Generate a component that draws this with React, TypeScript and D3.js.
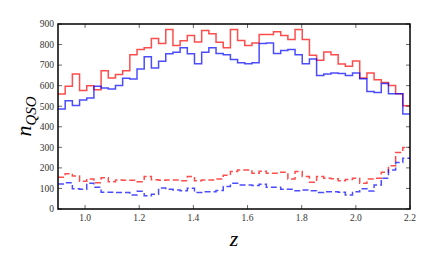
import React from 'react';
import * as d3 from 'd3';

// histogram range and bin count
const zMin = 0.9;
const zMax = 2.2;
const nBins = 49;

// counts per bin
const redSolid = [559, 597, 657, 576, 600, 580, 673, 637, 654, 673, 751, 776, 784, 829, 805, 873, 795, 818, 844, 813, 868, 852, 811, 784,
  873, 820, 795, 808, 849, 849, 862, 844, 824, 873, 824, 748, 724, 764, 751, 706, 694, 720, 637, 662, 629, 616, 601, 561, 502];
const blueSolid = [486, 527, 504, 530, 540, 597, 589, 584, 601, 636, 633, 681, 741, 686, 719, 755, 763, 785, 755, 707, 763, 785, 756, 751,
  727, 711, 707, 711, 805, 808, 756, 771, 776, 751, 707, 730, 649, 657, 662, 659, 649, 662, 634, 572, 567, 610, 561, 561, 462];
const redDashed = [155, 172, 160, 135, 146, 128, 152, 133, 141, 140, 140, 133, 158, 142, 140, 141, 141, 138, 158, 138, 141, 141, 146, 164,
  182, 190, 190, 174, 184, 174, 174, 179, 146, 182, 158, 130, 158, 150, 147, 137, 144, 150, 125, 146, 150, 179, 210, 275, 299];
const blueDashed = [122, 128, 98, 96, 125, 106, 82, 82, 80, 80, 68, 86, 65, 72, 102, 96, 93, 89, 101, 80, 84, 84, 90, 109,
  125, 117, 117, 114, 120, 106, 106, 96, 96, 89, 93, 89, 80, 84, 84, 81, 68, 84, 98, 87, 117, 150, 190, 226, 247];

const xTicks = [1.0, 1.2, 1.4, 1.6, 1.8, 2.0, 2.2];
const yTicks = [0, 100, 200, 300, 400, 500, 600, 700, 800, 900];

const margin = { top: 16, right: 18, bottom: 45, left: 50 };
const W = 436 - 8;
const H = 262 - 8;
const innerW = 410 - 8 - margin.left;
const innerH = 209 - 8 - margin.top;

const App = () => {
  const x = d3.scaleLinear().domain([zMin, zMax]).range([0, innerW]);
  const y = d3.scaleLinear().domain([0, 900]).range([innerH, 0]);
  const binW = (zMax - zMin) / nBins;

  // step path through the bin edges
  const stepPath = (vals: number[]) => {
    const pts: [number, number][] = vals.map((v, i) => [zMin + i * binW, v]);
    pts.push([zMax, vals[vals.length - 1]]);
    return d3.line<[number, number]>()
      .x(d => x(d[0]))
      .y(d => y(d[1]))
      .curve(d3.curveStepAfter)(pts) ?? '';
  };

  const series = [
    { vals: redSolid, color: '#ff0000', dash: undefined },
    { vals: blueSolid, color: '#0000ff', dash: undefined },
    { vals: redDashed, color: '#ff0000', dash: '6,3' },
    { vals: blueDashed, color: '#0000ff', dash: '6,3' },
  ];

  const font = 'Liberation Serif, DejaVu Serif, serif';

  return (
    <svg width={W} height={H} style={{ display: 'block' }}>
      <g transform={`translate(${margin.left},${margin.top})`}>
        <defs>
          <clipPath id="plot">
            <rect x={0} y={0} width={innerW} height={innerH} />
          </clipPath>
        </defs>
        <g clipPath="url(#plot)">
          {series.map((s, i) => (
            <path key={i} d={stepPath(s.vals)} fill="none" stroke={s.color}
              strokeOpacity={0.7} strokeWidth={1.5} strokeDasharray={s.dash} />
          ))}
        </g>
        {/* ticks on all four sides, pointing inward */}
        {xTicks.map(t => (
          <g key={t}>
            <line x1={x(t)} x2={x(t)} y1={innerH} y2={innerH - 4} stroke="#000" strokeWidth={0.6} />
            <line x1={x(t)} x2={x(t)} y1={0} y2={4} stroke="#000" strokeWidth={0.6} />
            <text x={x(t)} y={innerH + 12} textAnchor="middle" fontFamily={font} fontSize={9.5} fill="#333">
              {t.toFixed(1)}
            </text>
          </g>
        ))}
        {yTicks.map(t => (
          <g key={t}>
            <line x1={0} x2={4} y1={y(t)} y2={y(t)} stroke="#000" strokeWidth={0.6} />
            <line x1={innerW} x2={innerW - 4} y1={y(t)} y2={y(t)} stroke="#000" strokeWidth={0.6} />
            <text x={-4} y={y(t) + 3.3} textAnchor="end" fontFamily={font} fontSize={9.5} fill="#333">
              {t}
            </text>
          </g>
        ))}
        <rect x={0} y={0} width={innerW} height={innerH} fill="none" stroke="#000" strokeWidth={1.5} />
        <text x={innerW / 2} y={innerH + 37} textAnchor="middle" fontFamily={font} fontStyle="italic" fontSize={22}>
          z
        </text>
        <text transform={`translate(${-27},${innerH / 2}) rotate(-90)`} textAnchor="middle"
          fontFamily={font} fontStyle="italic" fontSize={22}>
          n<tspan fontSize={15} dy={5}>QSO</tspan>
        </text>
      </g>
    </svg>
  );
};

export default App;
